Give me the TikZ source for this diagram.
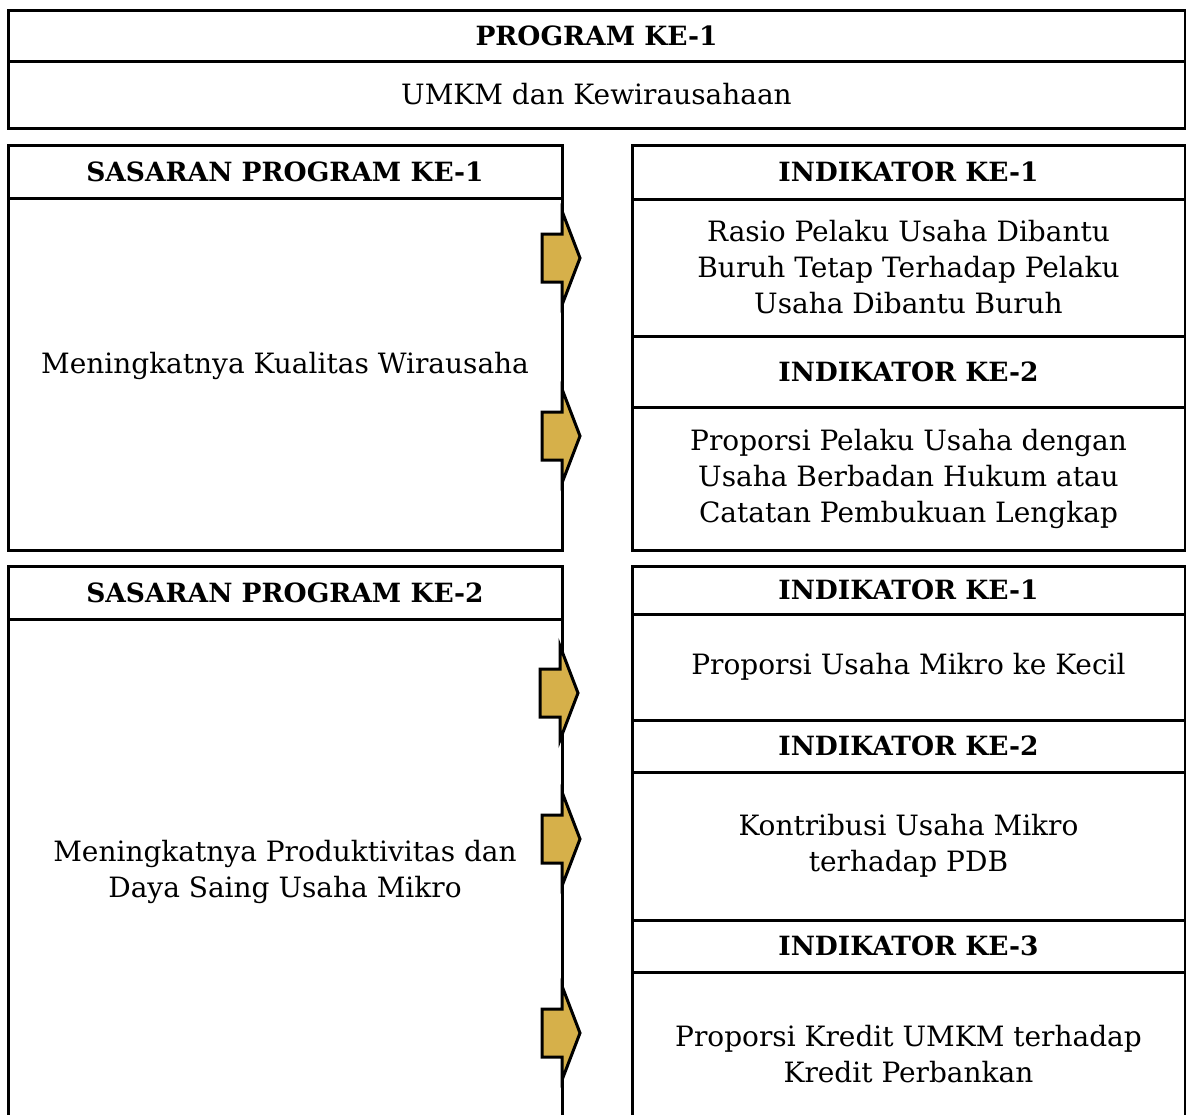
\documentclass[tikz,border=0pt]{standalone}
\usepackage{fontspec}
\setmainfont{DejaVu Serif}
\usepackage{xcolor}
\usepackage{tikz}
\usetikzlibrary{positioning}

\definecolor{arrgold}{RGB}{214,176,74}

\begin{document}
\begin{tikzpicture}[
    x=1pt, y=-1pt,
    cell/.style={draw, line width=3pt, rectangle, inner sep=0pt, align=center,
                 font=\fontsize{28}{36}\selectfont},
    head/.style={cell, font=\fontsize{26.5}{36}\selectfont\bfseries},
    leftcol/.style={minimum width=554pt},
    rightcol/.style={minimum width=553pt},
    blockarr/.pic={\draw[line width=3pt, fill=arrgold, line join=miter]
        (-20,-24) -- (0,-24) -- (0,-47) -- (18,0) -- (0,47) -- (0,24) -- (-20,24) -- cycle;}
]
\clip (0,0) rectangle (1186,1114);

% Program box
\node[head, minimum width=1177pt, minimum height=51pt] (prog) at (596.5,35.5) {PROGRAM KE-1};
\node[cell, minimum width=1177pt, minimum height=67pt] (progname) at (596.5,94.5) {UMKM dan Kewirausahaan};

% Sasaran 1
\node[head, leftcol, minimum height=53pt] (sas1) at (285,171.5) {SASARAN PROGRAM KE-1};
\node[cell, leftcol, minimum height=352pt] (sas1txt) at (285,374) {Meningkatnya Kualitas Wirausaha\\[-14pt]};

% Indikator for sasaran 1
\node[head, rightcol, minimum height=54pt] (ind11) at (908.5,172) {INDIKATOR KE-1};
\node[cell, rightcol, minimum height=137pt] (ind11txt) at (908.5,267.5)
    {Rasio Pelaku Usaha Dibantu\\Buruh Tetap Terhadap Pelaku\\Usaha Dibantu Buruh};
\node[head, rightcol, minimum height=71pt] (ind12) at (908.5,371.5) {INDIKATOR KE-2};
\node[cell, rightcol, minimum height=143pt] (ind12txt) at (908.5,478.5)
    {Proporsi Pelaku Usaha dengan\\Usaha Berbadan Hukum atau\\Catatan Pembukuan Lengkap};

% Sasaran 2
\node[head, leftcol, minimum height=53pt] (sas2) at (285,592.5) {SASARAN PROGRAM KE-2};
\node[cell, leftcol, minimum height=506pt] (sas2txt) at (285,872)
    {Meningkatnya Produktivitas dan\\Daya Saing Usaha Mikro};

% Indikator for sasaran 2
\node[head, rightcol, minimum height=48pt] (ind21) at (908.5,590) {INDIKATOR KE-1};
\node[cell, rightcol, minimum height=106pt] (ind21txt) at (908.5,667) {Proporsi Usaha Mikro ke Kecil};
\node[head, rightcol, minimum height=52pt] (ind22) at (908.5,746) {INDIKATOR KE-2};
\node[cell, rightcol, minimum height=148pt] (ind22txt) at (908.5,846)
    {Kontribusi Usaha Mikro\\terhadap PDB};
\node[head, rightcol, minimum height=52pt] (ind23) at (908.5,946) {INDIKATOR KE-3};
\node[cell, rightcol, minimum height=164pt] (ind23txt) at (908.5,1054)
    {Proporsi Kredit UMKM terhadap\\Kredit Perbankan};

% Block arrows on the sasaran edge
\pic at (562,258) {blockarr};
\pic at (562,436) {blockarr};
\pic at (560,693) {blockarr};
\pic at (562,839) {blockarr};
\pic at (562,1033) {blockarr};

\end{tikzpicture}
\end{document}
